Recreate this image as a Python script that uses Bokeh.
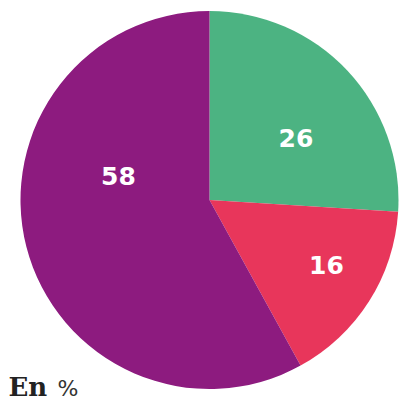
import math
from bokeh.plotting import figure
from bokeh.models import ColumnDataSource, Range1d
from bokeh.core.properties import value
from bokeh.embed import file_html
from bokeh.resources import INLINE

categories = ["A", "B", "C"]
values = [26, 16, 58]
colors = ["#4cb382", "#e8365b", "#8d1b7f"]
labels = ["26", "16", "58"]
label_x = [295.5, 326, 118]
label_y = [263.5, 137, 226]

total = sum(values)
starts, ends = [], []
cum = 0
for v in values:
    starts.append(math.pi / 2 - 2 * math.pi * cum / total)
    cum += v
    ends.append(math.pi / 2 - 2 * math.pi * cum / total)

src = ColumnDataSource(dict(cat=categories, val=values, color=colors,
                            start=starts, end=ends))
lsrc = ColumnDataSource(dict(x=label_x, y=label_y, text=labels))

W, H = 400, 401
p = figure(width=W, height=H, output_backend="svg", toolbar_location=None,
           x_range=Range1d(0, W), y_range=Range1d(0, H), min_border=0)
p.axis.visible = False
p.grid.visible = False
p.outline_line_color = None
p.background_fill_color = "white"
p.border_fill_color = "white"

p.wedge(x=209, y=201.5, radius=189, start_angle="start", end_angle="end",
        direction="clock", fill_color="color", line_color=None, source=src)

p.text(x="x", y="y", text="text", source=lsrc, text_color="white",
       text_font=value("DejaVu Sans"), text_font_style="bold",
       text_font_size="25px", text_align="center", text_baseline="middle")

p.text(x=[8], y=[15], text=["En"], text_color="#222222",
       text_font=value("DejaVu Serif"), text_font_style="bold",
       text_font_size="26px", text_align="left", text_baseline="middle")
p.text(x=[57], y=[13], text=["%"], text_color="#333333",
       text_font=value("DejaVu Sans"), text_font_size="22px",
       text_align="left", text_baseline="middle")

open("out.html", "w").write(file_html(p, INLINE))
